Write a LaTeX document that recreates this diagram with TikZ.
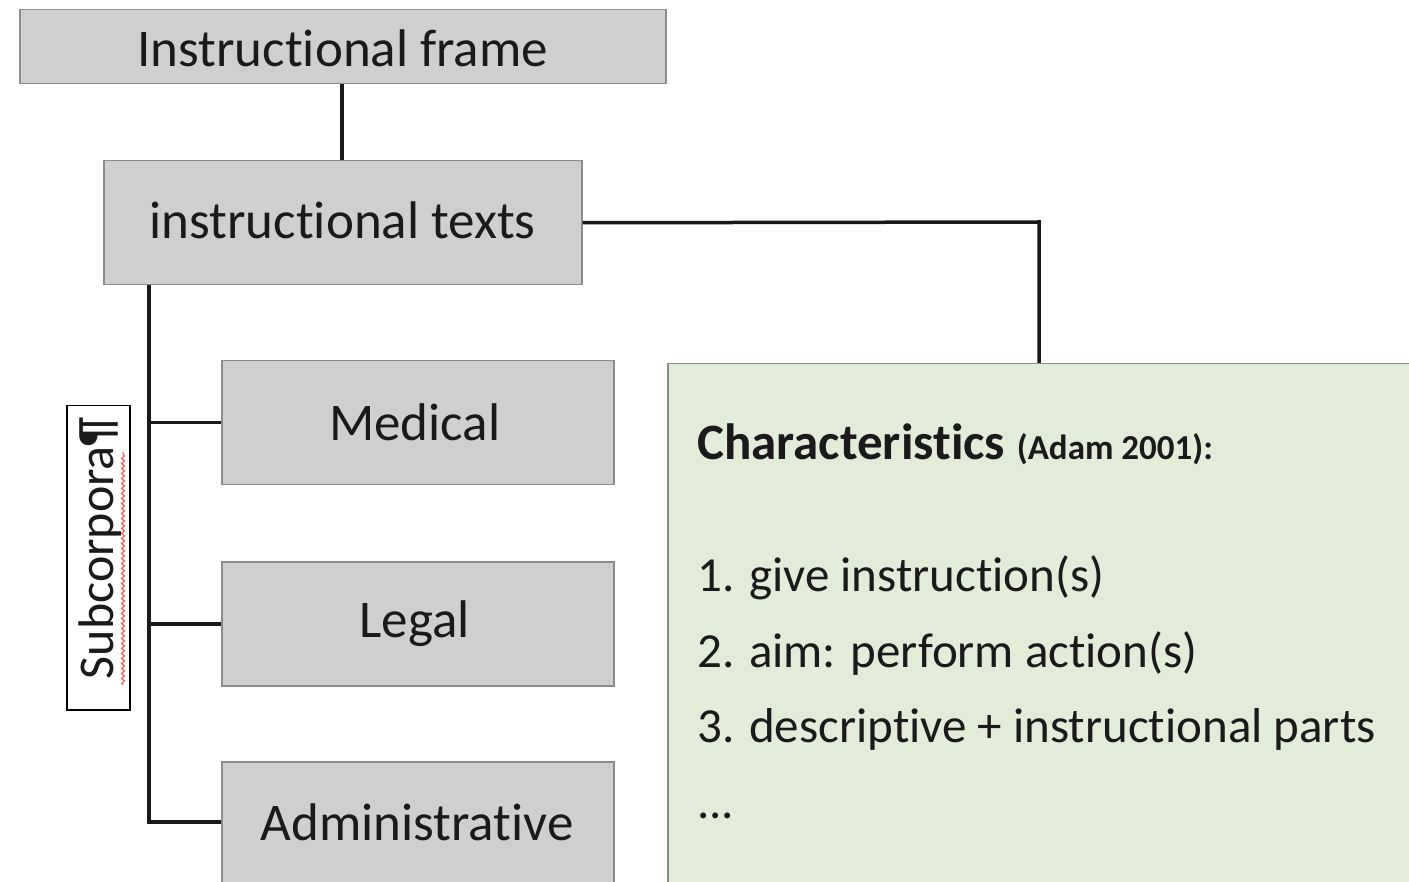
\documentclass[tikz,border=0pt]{standalone}
\usepackage{fontspec}
\setmainfont{Carlito}[Ligatures={NoCommon}]
\usetikzlibrary{decorations.pathmorphing}
\definecolor{boxgray}{HTML}{D0CFCF}
\definecolor{boxedge}{HTML}{8C8C8C}
\definecolor{greenfill}{HTML}{E2ECD9}
\definecolor{txt}{HTML}{1A1A1A}
\tikzset{
  graybox/.style={draw=boxedge, line width=1.5pt, fill=boxgray, anchor=north west, inner sep=0pt, text=txt},
  boxtext/.style={font=\fontsize{53}{56}\selectfont, text=txt, inner sep=0pt},
  conn/.style={draw=black!90, line width=3.5pt},
  item/.style={anchor=base west, inner sep=0pt, text=txt, font=\fontsize{49}{52}\selectfont}
}
\begin{document}
\begin{tikzpicture}[x=1pt,y=-1pt]
\useasboundingbox (0,0) rectangle (1409,882);
\clip (0,0) rectangle (1409,882);
\fill[white] (0,0) rectangle (1409,882);
% boxes
\node[graybox, minimum width=646pt, minimum height=74pt] (frame) at (19,9) {};
\node[boxtext] at ([yshift=-2pt]frame.center) {Instructional frame};
\node[graybox, minimum width=478pt, minimum height=124pt] (texts) at (103,160) {};
\node[boxtext] at ([yshift=2pt]texts.center) {instructional texts};
\node[graybox, minimum width=392pt, minimum height=124pt] (med) at (221,360) {};
\node[boxtext] at ([xshift=-3pt]med.center) {Medical};
\node[graybox, minimum width=392pt, minimum height=124pt] (leg) at (221,561) {};
\node[boxtext] at ([xshift=-3pt]leg.center) {Legal};
\node[graybox, minimum width=392pt, minimum height=140pt] (adm) at (221,761) {};
\coordinate (admc) at (417,822);
\node[boxtext] at (admc) {Administrative};
% green box
\node[draw=boxedge, line width=1.5pt, fill=greenfill, anchor=north west, inner sep=0pt, minimum width=760pt, minimum height=540pt] (green) at (667,363) {};
\node[anchor=base west, inner sep=0pt, text=txt] (ch) at (697,460) {\fontsize{51}{54}\selectfont\bfseries Characteristics \fontsize{35}{38}\selectfont(Adam 2001):};
\node[item] (i1) at (697,591) {1. give instruction(s)};
\node[item] (i2) at (697,667) {2. aim: perform action(s)};
\node[item] (i3) at (697,742) {3. descriptive + instructional parts};
\node[item] (i4) at (697,818) {...};
% subcorpora label
\node[draw=black, line width=1.5pt, fill=white, anchor=north west, inner sep=0pt, minimum width=63pt, minimum height=304pt] (sub) at (66,405) {};
\node[rotate=90, font=\fontsize{50}{54}\selectfont, text=txt, inner sep=0pt] (subt) at (100,548) {Subcorpora¶};
\draw[red!70, line width=1pt, decorate, decoration={snake, segment length=5pt, amplitude=1.5pt}] (123,685) -- (123,452);
% connectors
\coordinate (j1) at (1039,222);
\coordinate (trunk) at (149,822);
\draw[conn] (frame.south -| 342,0) -- (texts.north -| 342,0);
\draw[conn] (texts.east) -- (j1) -- (green.north -| j1);
\draw[conn] (texts.south -| 149,0) -- (trunk) -- (adm.west |- trunk);
\draw[conn] (med.west -| 149,0) -- (med.west);
\draw[conn] (leg.west -| 149,0) -- (leg.west);
\end{tikzpicture}
\end{document}
